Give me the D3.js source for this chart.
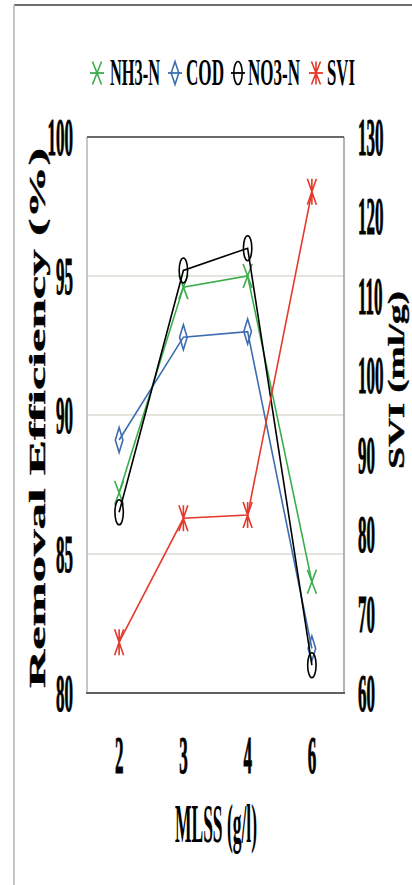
<!DOCTYPE html>
<html><head><meta charset="utf-8">
<script src="https://cdn.jsdelivr.net/npm/d3@7/dist/d3.min.js"></script>
<style>html,body{margin:0;padding:0;background:#fff}svg{display:block}</style>
</head><body>
<script>
// ---- data ----
const categories = ["2", "3", "4", "6"];
const nh3n = [87.2, 94.6, 95.0, 84.0];
const cod = [89.1, 92.8, 93.0, 81.6];
const no3n = [86.5, 95.2, 96.0, 81.0];
const svi = [66.4, 82.0, 82.4, 123.1];
const leftTicks = [80, 85, 90, 95, 100];
const rightTicks = [60, 70, 80, 90, 100, 110, 120, 130];
const seriesNames = ["NH3-N", "COD", "NO3-N", "SVI"];
const colors = ["#3aad4c", "#3d6cb0", "#000000", "#e5392c"];

const W = 412, H = 885;
const margin = {top: 137, right: 68, bottom: 192, left: 87};
const svg = d3.select("body").append("svg").attr("width", W).attr("height", H);
const font = "'Liberation Serif', 'Times New Roman', serif";

// outer frame
svg.append("line").attr("x1", 14).attr("x2", W).attr("y1", 5).attr("y2", 5)
  .attr("stroke", "#6e6e6e").attr("stroke-width", 2);
svg.append("line").attr("x1", 14).attr("x2", 14).attr("y1", 5).attr("y2", H)
  .attr("stroke", "#c4c4c4").attr("stroke-width", 2);

const x = d3.scalePoint().domain(categories).range([margin.left, W - margin.right]).padding(0.5);
const y = d3.scaleLinear().domain([80, 100]).range([H - margin.bottom, margin.top]);
const y2 = d3.scaleLinear().domain([60, 130]).range([H - margin.bottom, margin.top]);

// gridlines
svg.append("g").selectAll("line").data(leftTicks.filter(t => t > 80 && t < 100)).join("line")
  .attr("x1", margin.left).attr("x2", W - margin.right)
  .attr("y1", d => y(d)).attr("y2", d => y(d))
  .attr("stroke", "#dcdad2").attr("stroke-width", 1.5);

// plot borders
const L = margin.left, R = W - margin.right, T = margin.top, B = H - margin.bottom;
svg.append("line").attr("x1", L).attr("x2", L).attr("y1", T).attr("y2", B).attr("stroke", "#b4b4b4").attr("stroke-width", 1.5);
svg.append("line").attr("x1", R).attr("x2", R).attr("y1", T).attr("y2", B).attr("stroke", "#9a9a9a").attr("stroke-width", 1.5);
svg.append("line").attr("x1", L).attr("x2", R).attr("y1", T).attr("y2", T).attr("stroke", "#6a6a6a").attr("stroke-width", 2);
svg.append("line").attr("x1", L - 1).attr("x2", R + 1).attr("y1", B).attr("y2", B).attr("stroke", "#606060").attr("stroke-width", 2.2);

// tick labels
const TS = 3.1;
function tickText(sel) {
  return sel.attr("font-family", font).attr("font-weight", "bold")
    .attr("font-size", 17).attr("stroke", "#000").attr("stroke-width", 0.35);
}
tickText(svg.append("g").selectAll("text").data(leftTicks).join("text")
  .attr("transform", d => `translate(73,${y(d) + 18}) scale(1,${TS})`)
  .attr("text-anchor", "end").text(d => d));
tickText(svg.append("g").selectAll("text").data(rightTicks).join("text")
  .attr("transform", d => `translate(358,${y2(d) + 18}) scale(1,${TS})`)
  .attr("text-anchor", "start").text(d => d));
tickText(svg.append("g").selectAll("text").data(categories).join("text")
  .attr("transform", d => `translate(${x(d)},773) scale(1,${TS})`)
  .attr("text-anchor", "middle").text(d => d));

// axis titles
svg.append("text").attr("transform", `translate(175,842) scale(1,3.1)`)
  .attr("font-family", font).attr("font-size", 18).attr("font-weight", "bold")
  .attr("textLength", 82).attr("lengthAdjust", "spacingAndGlyphs")
  .text("MLSS (g/l)");
svg.append("text").attr("transform", `translate(45,688) rotate(-90)`)
  .attr("font-family", font).attr("font-weight", "bold").attr("font-size", 23)
  .attr("stroke", "#000").attr("stroke-width", 0.4)
  .attr("textLength", 540).attr("lengthAdjust", "spacingAndGlyphs")
  .text("Removal Efficiency (%)");
svg.append("text").attr("transform", `translate(404,469) rotate(-90)`)
  .attr("font-family", font).attr("font-weight", "bold").attr("font-size", 23)
  .attr("stroke", "#000").attr("stroke-width", 0.4)
  .attr("textLength", 178).attr("lengthAdjust", "spacingAndGlyphs")
  .text("SVI (ml/g)");

// marker shapes
function markerPath(type, rx, ry) {
  if (type === 0) return `M${-rx},${-ry}L${rx},${ry}M${-rx},${ry}L${rx},${-ry}`;
  if (type === 1) return `M0,${-ry}L${rx},0L0,${ry}L${-rx},0Z`;
  if (type === 2) return `M${-rx},0A${rx},${ry} 0 1,0 ${rx},0A${rx},${ry} 0 1,0 ${-rx},0Z`;
  return `M${-rx},${-ry}L${rx},${ry}M${-rx},${ry}L${rx},${-ry}M0,${-ry}L0,${ry}`;
}
const markerSize = [[4.5, 12], [3.8, 12.5], [4.2, 12.5], [4.5, 13]];

const allSeries = [nh3n, cod, no3n, svi];
allSeries.forEach((vals, i) => {
  const ys = i === 3 ? y2 : y;
  const line = d3.line().x((d, j) => x(categories[j])).y(d => ys(d));
  svg.append("path").datum(vals).attr("d", line).attr("fill", "none")
    .attr("stroke", colors[i]).attr("stroke-width", 1.6);
  svg.append("g").selectAll("path").data(vals).join("path")
    .attr("transform", (d, j) => `translate(${x(categories[j])},${ys(d)})`)
    .attr("d", markerPath(i, markerSize[i][0], markerSize[i][1]))
    .attr("fill", "none")
    .attr("stroke", colors[i]).attr("stroke-width", 1.6);
});

// legend
const legendMarkerX = [97, 175, 238, 316];
const legendTextX = [110, 186, 248, 327];
const legendTextW = [50, 38, 52, 28];
const lg = svg.append("g");
seriesNames.forEach((name, i) => {
  const cx = legendMarkerX[i], cy = 73;
  lg.append("line").attr("x1", cx - 7).attr("x2", cx + 7).attr("y1", cy).attr("y2", cy)
    .attr("stroke", colors[i]).attr("stroke-width", 1.8);
  lg.append("path").attr("transform", `translate(${cx},${cy})`)
    .attr("d", markerPath(i, markerSize[i][0], 11.5)).attr("fill", "none")
    .attr("stroke", colors[i]).attr("stroke-width", 1.6);
  lg.append("text").attr("transform", `translate(${legendTextX[i]},85) scale(1,2.2)`)
    .attr("font-family", font).attr("font-size", 17).attr("font-weight", "bold")
    .attr("textLength", legendTextW[i]).attr("lengthAdjust", "spacingAndGlyphs")
    .text(name);
});
</script>
</body></html>
